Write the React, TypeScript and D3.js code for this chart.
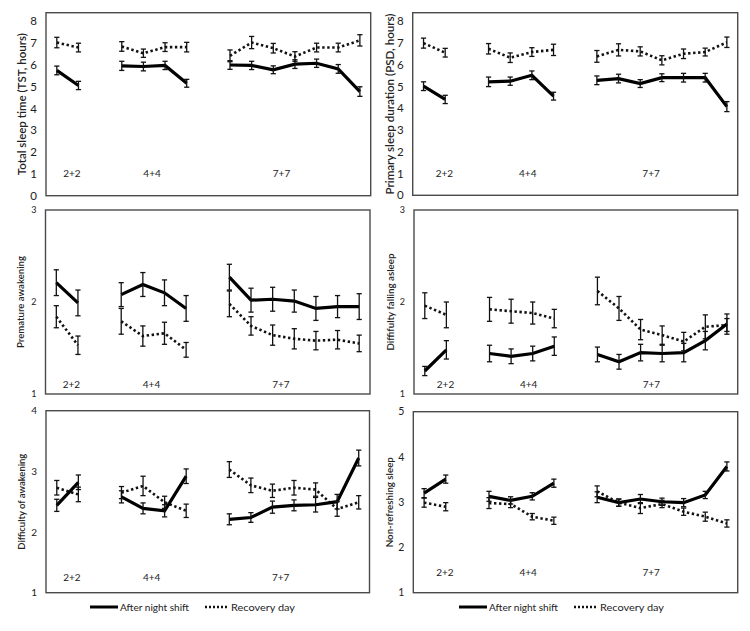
import React from "react";
import * as d3 from "d3";

// ---- categories (15 slots, two empty gap slots between schedules) ----
const slots = [
  "2+2 d1", "2+2 d2", "gap1",
  "4+4 d1", "4+4 d2", "4+4 d3", "4+4 d4", "gap2",
  "7+7 d1", "7+7 d2", "7+7 d3", "7+7 d4", "7+7 d5", "7+7 d6", "7+7 d7",
];
const groupLabels = ["2+2", "4+4", "7+7"];
const legendLabels = ["After night shift", "Recovery day"];

// ---- Total sleep time ----
const tstNight = [5.75, 5.06, null, 5.96, 5.93, 5.98, 5.16, null, 6.0, 5.98, 5.78, 6.04, 6.08, 5.82, 4.78];
const tstNightErr = [0.2, 0.19, null, 0.21, 0.2, 0.19, 0.18, null, 0.2, 0.19, 0.18, 0.2, 0.19, 0.2, 0.22];
const tstRecovery = [7.03, 6.8, null, 6.85, 6.54, 6.82, 6.82, null, 6.42, 7.03, 6.77, 6.39, 6.8, 6.8, 7.13];
const tstRecoveryErr = [0.24, 0.2, null, 0.22, 0.19, 0.2, 0.22, null, 0.27, 0.28, 0.22, 0.22, 0.2, 0.2, 0.26];

// ---- Primary sleep duration ----
const psdNight = [5.02, 4.41, null, 5.22, 5.25, 5.52, 4.56, null, 5.29, 5.37, 5.14, 5.41, 5.41, 5.41, 4.08];
const psdNightErr = [0.2, 0.19, null, 0.22, 0.19, 0.2, 0.18, null, 0.2, 0.2, 0.18, 0.18, 0.2, 0.2, 0.23];
const psdRecovery = [7.0, 6.56, null, 6.74, 6.33, 6.59, 6.69, null, 6.39, 6.69, 6.62, 6.21, 6.51, 6.59, 7.04];
const psdRecoveryErr = [0.23, 0.2, null, 0.24, 0.22, 0.2, 0.26, null, 0.27, 0.28, 0.21, 0.21, 0.22, 0.18, 0.24];

// ---- Premature awakening ----
const paNight = [2.21, 1.99, null, 2.08, 2.19, 2.1, 1.93, null, 2.27, 2.02, 2.03, 2.01, 1.93, 1.95, 1.95];
const paNightErr = [0.14, 0.14, null, 0.13, 0.13, 0.14, 0.14, null, 0.14, 0.13, 0.13, 0.12, 0.13, 0.12, 0.14];
const paRecovery = [1.84, 1.53, null, 1.79, 1.63, 1.66, 1.48, null, 1.98, 1.74, 1.64, 1.6, 1.58, 1.59, 1.55];
const paRecoveryErr = [0.12, 0.1, null, 0.14, 0.11, 0.12, 0.08, null, 0.14, 0.1, 0.11, 0.11, 0.1, 0.1, 0.09];

// ---- Difficulty falling asleep ----
const dfaNight = [1.25, 1.48, null, 1.44, 1.41, 1.44, 1.52, null, 1.43, 1.35, 1.45, 1.44, 1.45, 1.58, 1.76];
const dfaNightErr = [0.05, 0.1, null, 0.09, 0.08, 0.08, 0.1, null, 0.08, 0.08, 0.09, 0.09, 0.1, 0.1, 0.11];
const dfaRecovery = [1.96, 1.86, null, 1.92, 1.9, 1.88, 1.82, null, 2.12, 1.93, 1.7, 1.64, 1.57, 1.73, 1.75];
const dfaRecoveryErr = [0.14, 0.14, null, 0.13, 0.13, 0.12, 0.1, null, 0.15, 0.13, 0.11, 0.1, 0.1, 0.13, 0.07];

// ---- Difficulty of awakening ----
const doaNight = [2.44, 2.82, null, 2.58, 2.39, 2.35, 2.92, null, 2.21, 2.24, 2.41, 2.44, 2.45, 2.5, 3.22];
const doaNightErr = [0.1, 0.12, null, 0.1, 0.09, 0.1, 0.12, null, 0.09, 0.08, 0.1, 0.09, 0.12, 0.12, 0.13];
const doaRecovery = [2.73, 2.62, null, 2.65, 2.76, 2.49, 2.35, null, 3.03, 2.77, 2.68, 2.73, 2.7, 2.38, 2.49];
const doaRecoveryErr = [0.12, 0.12, null, 0.1, 0.16, 0.1, 0.11, null, 0.13, 0.12, 0.11, 0.12, 0.11, 0.12, 0.11];

// ---- Non-refreshing sleep ----
const nrsNight = [3.2, 3.51, null, 3.13, 3.04, 3.13, 3.42, null, 3.11, 2.99, 3.07, 3.01, 2.99, 3.16, 3.79];
const nrsNightErr = [0.1, 0.09, null, 0.11, 0.08, 0.08, 0.09, null, 0.12, 0.08, 0.1, 0.08, 0.09, 0.08, 0.1];
const nrsRecovery = [2.99, 2.9, null, 2.98, 2.96, 2.68, 2.59, null, 3.24, 2.99, 2.87, 2.96, 2.79, 2.68, 2.53];
const nrsRecoveryErr = [0.1, 0.09, null, 0.12, 0.08, 0.07, 0.08, null, 0.12, 0.08, 0.12, 0.08, 0.08, 0.1, 0.08];

const FONT = "Lato, 'Open Sans', sans-serif";

type Series = (number | null)[];
type PanelDef = {
  title: string;
  titleLen: number;
  titleSize: number;
  night: Series; nightErr: Series; rec: Series; recErr: Series;
  domain: [number, number];
  ticks: number[];
  tickSize: number;
  x0: number; x1: number; y0: number; y1: number;
  titleX: number;
  groupDy: number;
  groupSlots: number[];
};

const leftGroup = [0.7, 4.4, 10.38];
const rightGroup = [0.96, 4.81, 10.5];

const panels: PanelDef[] = [
  { title: "Total sleep time (TST, hours)", titleLen: 142, titleSize: 11.5,
    night: tstNight, nightErr: tstNightErr, rec: tstRecovery, recErr: tstRecoveryErr,
    domain: [0, 8.4], ticks: d3.range(0, 9), tickSize: 11.5,
    x0: 46, x1: 370.7, y0: 12.7, y1: 195.7, titleX: 22, groupDy: 22.5, groupSlots: leftGroup },
  { title: "Primary sleep duration (PSD, hours)", titleLen: 181, titleSize: 11.5,
    night: psdNight, nightErr: psdNightErr, rec: psdRecovery, recErr: psdRecoveryErr,
    domain: [0, 8.4], ticks: d3.range(0, 9), tickSize: 11.5,
    x0: 412.7, x1: 737.7, y0: 12.7, y1: 195.3, titleX: 390, groupDy: 22, groupSlots: rightGroup },
  { title: "Premature awakening", titleLen: 92, titleSize: 9.5,
    night: paNight, nightErr: paNightErr, rec: paRecovery, recErr: paRecoveryErr,
    domain: [1, 3], ticks: [1, 2, 3], tickSize: 9,
    x0: 45.5, x1: 370, y0: 210, y1: 394, titleX: 21, groupDy: 9.5, groupSlots: leftGroup },
  { title: "Diffifulty falling asleep", titleLen: 97, titleSize: 9.5,
    night: dfaNight, nightErr: dfaNightErr, rec: dfaRecovery, recErr: dfaRecoveryErr,
    domain: [1, 3], ticks: [1, 2, 3], tickSize: 9,
    x0: 414, x1: 737.7, y0: 210, y1: 394, titleX: 391, groupDy: 9.5, groupSlots: rightGroup },
  { title: "Difficulty of awakening", titleLen: 96, titleSize: 9.5,
    night: doaNight, nightErr: doaNightErr, rec: doaRecovery, recErr: doaRecoveryErr,
    domain: [1, 4], ticks: [1, 2, 3, 4], tickSize: 10,
    x0: 46, x1: 369.5, y0: 410.7, y1: 592.7, titleX: 22, groupDy: 15.5, groupSlots: leftGroup },
  { title: "Non-refreshing sleep", titleLen: 90, titleSize: 10,
    night: nrsNight, nightErr: nrsNightErr, rec: nrsRecovery, recErr: nrsRecoveryErr,
    domain: [1, 5], ticks: [1, 2, 3, 4, 5], tickSize: 10.5,
    x0: 413.3, x1: 737.7, y0: 411.7, y1: 592.7, titleX: 389.5, groupDy: 20, groupSlots: rightGroup },
];

function Panel({ p }: { p: PanelDef }) {
  const x = d3.scaleBand<string>().domain(slots).range([p.x0, p.x1]).padding(0);
  const bw = x.bandwidth();
  const cx = (i: number) => (x(slots[i]) as number) + bw / 2;
  const y = d3.scaleLinear().domain(p.domain).range([p.y1, p.y0]);
  const line = d3
    .line<number | null>()
    .defined((d) => d != null)
    .x((_, i) => cx(i))
    .y((d) => y(d as number));
  const errBars = (vals: Series, errs: Series, key: string) =>
    vals.map((v, i) => {
      if (v == null || errs[i] == null) return null;
      const e = errs[i] as number;
      const xx = cx(i);
      const ya = y(v + e), yb = y(v - e);
      return (
        <g key={key + i} stroke="#111" strokeWidth={1.3} fill="none">
          <line x1={xx} x2={xx} y1={ya} y2={yb} />
          <line x1={xx - 2.6} x2={xx + 2.6} y1={ya} y2={ya} />
          <line x1={xx - 2.6} x2={xx + 2.6} y1={yb} y2={yb} />
        </g>
      );
    });
  const tcx = p.titleX;
  const tcy = (p.y0 + p.y1) / 2;
  const gx = (s: number) => p.x0 + bw / 2 + s * bw;
  return (
    <g>
      <rect x={p.x0} y={p.y0} width={p.x1 - p.x0} height={p.y1 - p.y0} fill="none" stroke="#4a4a4a" strokeWidth={1.4} />
      {p.ticks.map((t) => (
        <text key={t} x={p.x0 - 9} y={y(t)} dy="0.35em" textAnchor="end" fontSize={p.tickSize} fontFamily={FONT} fill="#222">
          {t}
        </text>
      ))}
      <text
        transform={`translate(${tcx},${tcy}) rotate(-90)`}
        textAnchor="middle"
        dy="0.35em"
        fontSize={p.titleSize}
        fontFamily={FONT}
        fontWeight={600}
        fill="#222"
        textLength={p.titleLen}
        lengthAdjust="spacingAndGlyphs"
      >
        {p.title}
      </text>
      {groupLabels.map((g, i) => (
        <text key={g} x={gx(p.groupSlots[i])} y={p.y1 - p.groupDy} dy="0.35em" textAnchor="middle" fontSize={10} fontFamily={FONT} fill="#222">
          {g}
        </text>
      ))}
      <path d={line(p.rec) || ""} fill="none" stroke="#111" strokeWidth={2.6} strokeDasharray="2.4 2.6" />
      <path d={line(p.night) || ""} fill="none" stroke="#000" strokeWidth={3.2} strokeLinejoin="miter" />
      {errBars(p.night, p.nightErr, "n")}
      {errBars(p.rec, p.recErr, "r")}
    </g>
  );
}

function Legend({ x0, y }: { x0: number; y: number }) {
  return (
    <g fontFamily={FONT} fontSize={10} fill="#222">
      <line x1={x0} x2={x0 + 28} y1={y} y2={y} stroke="#000" strokeWidth={3} />
      <text x={x0 + 30} y={y} dy="0.35em" textLength={69} lengthAdjust="spacingAndGlyphs">{legendLabels[0]}</text>
      <line x1={x0 + 115} x2={x0 + 139} y1={y} y2={y} stroke="#111" strokeWidth={2.4} strokeDasharray="2 2" />
      <text x={x0 + 141} y={y} dy="0.35em" textLength={64} lengthAdjust="spacingAndGlyphs">{legendLabels[1]}</text>
    </g>
  );
}

export default function App() {
  return (
    <svg width={750} height={631} style={{ position: "absolute", left: 0, top: 0, background: "#fff" }}>
      <rect width={750} height={631} fill="#fff" />
      {panels.map((p, i) => (
        <Panel key={i} p={p} />
      ))}
      <Legend x0={90} y={607} />
      <Legend x0={459} y={607} />
    </svg>
  );
}
